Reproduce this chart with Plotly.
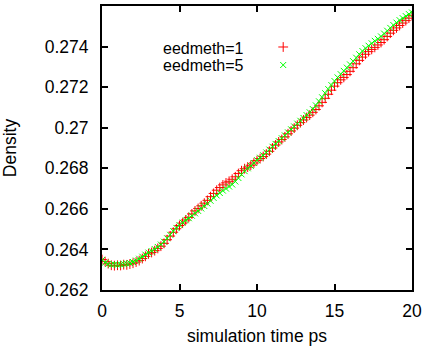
import numpy as np
import plotly.graph_objects as go

time_ps = [round(i * 0.2, 1) for i in range(101)]

density_eed1 = [
    0.26350, 0.26340, 0.26330, 0.26322, 0.26320, 0.26322, 0.26321, 0.26325, 0.26324, 0.26328,
    0.26332, 0.26338, 0.26345, 0.26355, 0.26366, 0.26378, 0.26385, 0.26394, 0.26405, 0.26416,
    0.26430, 0.26448, 0.26466, 0.26485, 0.26502, 0.26518, 0.26530, 0.26545, 0.26558, 0.26575,
    0.26590, 0.26602, 0.26615, 0.26628, 0.26642, 0.26660, 0.26676, 0.26692, 0.26705, 0.26718,
    0.26728, 0.26736, 0.26746, 0.26758, 0.26774, 0.26788, 0.26798, 0.26806, 0.26815, 0.26826,
    0.26838, 0.26848, 0.26858, 0.26870, 0.26884, 0.26900, 0.26915, 0.26930, 0.26942, 0.26955,
    0.26970, 0.26984, 0.26998, 0.27012, 0.27025, 0.27038, 0.27050, 0.27062, 0.27076, 0.27090,
    0.27108, 0.27125, 0.27145, 0.27165, 0.27185, 0.27205, 0.27222, 0.27236, 0.27248, 0.27262,
    0.27278, 0.27296, 0.27315, 0.27332, 0.27348, 0.27362, 0.27375, 0.27386, 0.27396, 0.27408,
    0.27420, 0.27434, 0.27450, 0.27466, 0.27480, 0.27492, 0.27504, 0.27516, 0.27528, 0.27540,
    0.27552,
]

density_eed5 = [
    0.26348, 0.26335, 0.26328, 0.26325, 0.26326, 0.26324, 0.26326, 0.26328, 0.26330, 0.26333,
    0.26338, 0.26345, 0.26354, 0.26364, 0.26374, 0.26384, 0.26392, 0.26402, 0.26412, 0.26424,
    0.26438, 0.26455, 0.26472, 0.26490, 0.26506, 0.26520, 0.26532, 0.26544, 0.26554, 0.26566,
    0.26578, 0.26590, 0.26602, 0.26614, 0.26626, 0.26640, 0.26654, 0.26666, 0.26678, 0.26690,
    0.26700, 0.26710, 0.26720, 0.26735, 0.26752, 0.26770, 0.26786, 0.26800, 0.26812, 0.26826,
    0.26840, 0.26852, 0.26864, 0.26878, 0.26892, 0.26906, 0.26920, 0.26934, 0.26948, 0.26962,
    0.26977, 0.26992, 0.27006, 0.27020, 0.27034, 0.27048, 0.27062, 0.27076, 0.27092, 0.27110,
    0.27130, 0.27150, 0.27170, 0.27190, 0.27210, 0.27230, 0.27248, 0.27264, 0.27280, 0.27296,
    0.27312, 0.27328, 0.27345, 0.27362, 0.27378, 0.27392, 0.27404, 0.27416, 0.27428, 0.27438,
    0.27450, 0.27464, 0.27478, 0.27492, 0.27506, 0.27518, 0.27530, 0.27540, 0.27550, 0.27560,
    0.27568,
]

series_names = ["eedmeth=1", "eedmeth=5"]
x_tickvals = [0, 5, 10, 15, 20]
x_ticktext = ["0", "5", "10", "15", "20"]
y_tickvals = [0.262, 0.264, 0.266, 0.268, 0.270, 0.272, 0.274, 0.276]
y_ticktext = ["0.262", "0.264", "0.266", "0.268", "0.27", "0.272", "0.274", "0.276"]

FONT = "Liberation Sans, Arial, sans-serif"
FS = 17.5
LEG_FS = 16

fig = go.Figure()
fig.add_trace(go.Scatter(
    x=time_ps, y=density_eed1, mode="markers", name=" ", legend="legend",
    marker=dict(symbol="cross-thin", size=7, color="#ff0000",
                line=dict(color="#ff0000", width=1)),
))
fig.add_trace(go.Scatter(
    x=time_ps, y=density_eed5, mode="markers", name=" ", legend="legend2",
    marker=dict(symbol="x-thin", size=6, color="#00ff00",
                line=dict(color="#00ff00", width=1)),
))

axis_common = dict(
    showline=True, linecolor="black", linewidth=2, mirror="ticks",
    ticks="inside", ticklen=6, tickwidth=2, tickcolor="black",
    showgrid=False, zeroline=False, automargin=False,
    tickfont=dict(family=FONT, size=FS, color="black"),
)

fig.update_xaxes(range=[0, 20], tickvals=x_tickvals, ticktext=x_ticktext,
                 title=dict(text="simulation time ps", font=dict(family=FONT, size=FS, color="black"), standoff=12),
                 ticklabelstandoff=4, **axis_common)
fig.update_yaxes(range=[0.262, 0.276], tickvals=y_tickvals, ticktext=y_ticktext,
                 title=dict(text="Density", font=dict(family=FONT, size=FS, color="black"), standoff=29),
                 ticklabelstandoff=8, **axis_common)

legend_common = dict(x=0.52, xanchor="left", yanchor="top",
                     bgcolor="rgba(0,0,0,0)", font=dict(family=FONT, size=11),
                     itemwidth=30)

fig.update_layout(
    width=424, height=346,
    margin=dict(l=102, r=12, t=6, b=56, autoexpand=False),
    paper_bgcolor="white", plot_bgcolor="white",
    showlegend=True,
    legend=dict(y=0.9067, **legend_common),
    legend2=dict(y=0.8433, **legend_common),
    annotations=[
        dict(text=series_names[0], x=0.463, y=0.852, xref="paper", yref="paper",
             xanchor="right", yanchor="middle", showarrow=False,
             font=dict(family=FONT, size=LEG_FS, color="black")),
        dict(text=series_names[1], x=0.463, y=0.789, xref="paper", yref="paper",
             xanchor="right", yanchor="middle", showarrow=False,
             font=dict(family=FONT, size=LEG_FS, color="black")),
    ],
)

fig.write_html("out.html")
